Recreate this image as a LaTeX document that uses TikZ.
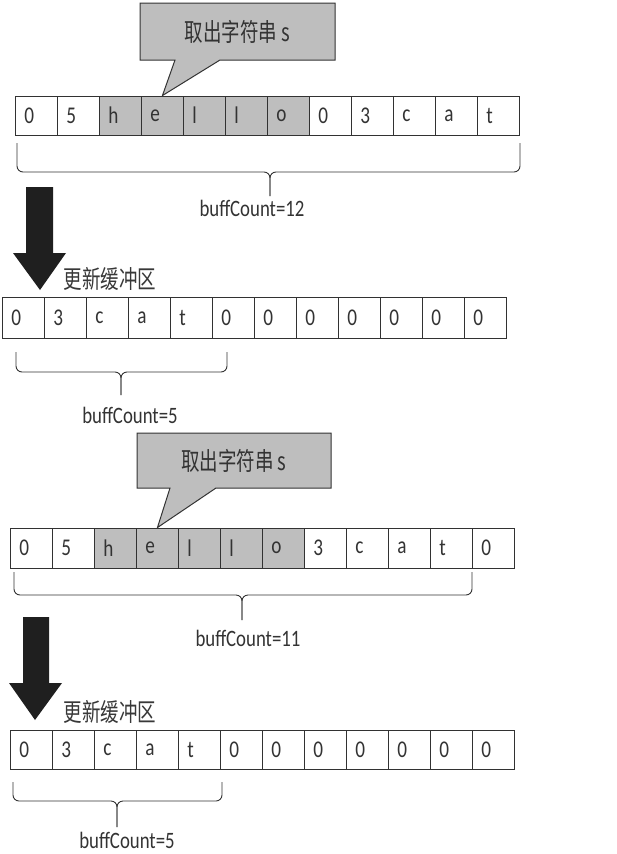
\documentclass[tikz,border=0pt]{standalone}
\usepackage{fontspec}
\setmainfont{Carlito}[FakeStretch=0.8]
\newfontfamily\songti{Noto Sans CJK SC}[FakeStretch=0.74]
\definecolor{cellgray}{RGB}{190,190,190}
\definecolor{inkgray}{RGB}{50,50,50}
\tikzset{
	cell/.style={draw=inkgray,line width=0.9pt,anchor=west,minimum height=39pt,text width=24pt,inner xsep=9pt,align=left,font=\fontsize{24}{26}\selectfont,text=black!80},
	bubble/.style={draw=black!80,fill=cellgray,line width=1pt},
	bubbletext/.style={font=\songti\fontsize{25}{27}\selectfont,text=black!80},
	bufbrace/.style={draw=inkgray,line width=0.9pt,rounded corners=6pt},
	countlabel/.style={font=\fontsize{23.5}{26}\selectfont,text=black!80,inner sep=1pt},
	updlabel/.style={anchor=west,font=\songti\fontsize{25}{27}\selectfont,text=black!78},
	bigarrow/.style={fill=black!88}
}
\begin{document}
\begin{tikzpicture}[x=1pt,y=-1pt,line join=miter]
	\useasboundingbox (0,0) rectangle (617,854);
	% first take
	\foreach \t/\f [count=\i] in {0/white,5/white,h/cellgray,e/cellgray,l/cellgray,l/cellgray,o/cellgray,0/white,3/white,c/white,a/white,t/white}
		\node[cell,fill=\f] (a\i) at (15+42*\i-42,115.5) {\t};
	\path[bubble] (140,3)--(335,3)--(335,60)--(220,60)--(a4.north)--(175,60)--(140,60)--cycle;
	\node[bubbletext] (take1) at (237.5,31.5) {取出字符串 s};
	\draw[bufbrace] (17,143)--(17,172)--(270,172)--(270,196);
	\draw[bufbrace] (520,143)--(520,172)--(270,172)--(270,196);
	\node[countlabel] (cnt1) at (252,208) {buffCount=12};
	\fill[bigarrow] (26,187)--(53,187)--(53,253)--(66,253)--(40,290)--(13,253)--(26,253)--cycle;
	\node[updlabel] (upd1) at (60,279) {更新缓冲区};
	% buffer after the update
	\foreach \t [count=\i] in {0,3,c,a,t,0,0,0,0,0,0,0}
		\node[cell,fill=white,minimum height=41pt] (b\i) at (2+42*\i-42,317.5) {\t};
	\draw[bufbrace] (16,352)--(16,372)--(121,372)--(121,395);
	\draw[bufbrace] (227,352)--(227,372)--(121,372)--(121,395);
	\node[countlabel] (cnt2) at (130,415) {buffCount=5};
	% second take
	\foreach \t/\f [count=\i] in {0/white,5/white,h/cellgray,e/cellgray,l/cellgray,l/cellgray,o/cellgray,3/white,c/white,a/white,t/white,0/white}
		\node[cell,fill=\f,minimum height=40pt] (c\i) at (10+42*\i-42,548) {\t};
	\path[bubble] (137,433)--(331,433)--(331,488)--(216,488)--(c4.north)--(170,488)--(137,488)--cycle;
	\node[bubbletext] (take2) at (234,460.5) {取出字符串 s};
	\draw[bufbrace] (14,572)--(14,595)--(242,595)--(242,620);
	\draw[bufbrace] (472,572)--(472,595)--(242,595)--(242,620);
	\node[countlabel] (cnt3) at (248,638) {buffCount=11};
	\fill[bigarrow] (23,617)--(49,617)--(49,683)--(62,683)--(35,720)--(9,683)--(23,683)--cycle;
	\node[updlabel] (upd2) at (60,712) {更新缓冲区};
	% buffer after the second update
	\foreach \t [count=\i] in {0,3,c,a,t,0,0,0,0,0,0,0}
		\node[cell,fill=white] (d\i) at (10+42*\i-42,749.5) {\t};
	\draw[bufbrace] (13,782)--(13,801)--(117,801)--(117,827);
	\draw[bufbrace] (222,782)--(222,801)--(117,801)--(117,827);
	\node[countlabel] (cnt4) at (127,840) {buffCount=5};
\end{tikzpicture}
\end{document}
